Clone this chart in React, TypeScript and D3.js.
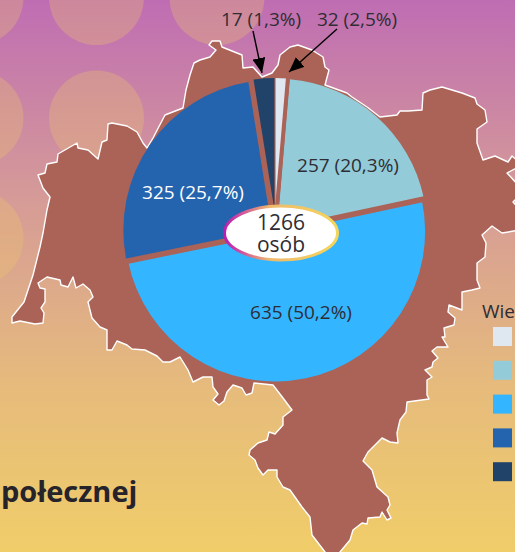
import React from "react";
import * as d3 from "d3";

const W = 515, H = 552;
// Drawn order clockwise from 12 o'clock. The picture's slice widths for the two smallest are swapped against their labels.
const sliceNames = ["light", "teal", "sky", "blue", "navy"];
const sliceArcValues = [17, 257, 635, 325, 32];
const sliceColors = ["#dfe7f0", "#93cbd9", "#33b5ff", "#2464ae", "#224369"];
const sliceExplode = [3, 3, 0.5, 2, 3];
// width of the brown gap that follows each slice, clockwise
const sliceGapAfter = [4, 5.5, 0, 5.5, 1];
const gapBlueSky = 5.5;
const legendColors = ["#dfe7f0", "#93cbd9", "#33b5ff", "#2464ae", "#224369"];
const labels = [
  { t: "17 (1,3%)", x: 261, y: 26, c: "#2f2d33" },
  { t: "32 (2,5%)", x: 357, y: 26, c: "#2f2d33" },
  { t: "257 (20,3%)", x: 348, y: 172, c: "#2f2d33" },
  { t: "635 (50,2%)", x: 301, y: 319, c: "#2f2d33" },
  { t: "325 (25,7%)", x: 193, y: 199, c: "#ffffff" },
];
const arrows = [
  [[253, 31], [262, 73]],
  [[337, 29], [289, 72]],
];
const circleSpots: [number, number][] = [[-24, -2.5], [-24, 118], [-24, 238], [96.5, -2.5], [96.5, 118], [217, -2.5]];
const outline: [number, number][] = [
  [183,108],[186,90],[190,75],[194,63],[200,60],[210,57],[216,50],[209,45],[212,41],[220,41],[222,47],[232,51],[242,55],[243,68],[253,67],[262,77],[272,73],[278,65],[280,55],[290,47],[298,45],[312,50],[323,57],[325,67],[329,70],[325,85],[347,93],[352,97],[367,107],[380,117],[397,115],[400,111],[408,111],[422,110],[423,93],[430,90],[442,87],[462,93],[475,98],[477,104],[485,110],[487,122],[477,129],[477,143],[483,160],[495,156],[508,162],[512,156],[520,163],[520,166],[507,173],[520,187],[520,195],[513,202],[520,210],[520,230],[502,233],[492,226],[482,235],[486,243],[485,257],[477,263],[477,280],[480,288],[472,290],[462,292],[462,310],[449,305],[448,312],[455,318],[454,325],[444,328],[445,337],[442,337],[448,347],[437,347],[432,351],[438,358],[433,362],[432,367],[425,370],[432,377],[427,380],[427,395],[429,399],[407,402],[406,412],[400,420],[397,433],[398,443],[390,442],[382,438],[368,452],[363,461],[372,470],[377,487],[388,497],[390,505],[387,510],[391,518],[387,520],[382,512],[380,517],[368,518],[367,524],[362,523],[353,530],[350,540],[340,552],[333,558],[325,552],[312,535],[310,517],[302,507],[290,490],[283,487],[277,477],[277,470],[268,470],[263,475],[258,468],[255,460],[249,455],[250,450],[258,443],[267,440],[269,432],[275,434],[283,425],[283,417],[292,410],[283,398],[273,385],[254,383],[252,393],[246,395],[242,388],[233,385],[227,392],[224,401],[219,405],[213,400],[218,394],[213,387],[212,377],[203,377],[193,382],[188,370],[180,357],[170,362],[163,362],[157,356],[145,350],[132,349],[127,345],[117,341],[112,350],[107,350],[107,330],[100,327],[92,318],[88,302],[93,297],[90,290],[83,284],[76,288],[73,277],[68,287],[61,285],[60,280],[47,277],[38,283],[40,288],[45,289],[45,302],[41,308],[44,313],[43,323],[35,324],[25,322],[20,321],[12,323],[12,317],[24,302],[33,275],[40,247],[43,233],[47,210],[50,197],[43,188],[38,175],[45,173],[47,164],[57,162],[58,154],[77,143],[78,148],[88,150],[98,159],[102,142],[107,140],[108,124],[112,123],[127,126],[137,132],[143,143],[147,148],[153,138],[165,115],
];

const cx = 275, cy = 231, R = 150;
const MAP = "#ab6257";

export default function App() {
  const pieGen = d3.pie<number>().sort(null).value((d) => d);
  const arcGen = d3.arc<d3.PieArcDatum<number>>().innerRadius(0).outerRadius(R);
  const arcs = pieGen(sliceArcValues);
  const mapPath = d3.line().curve(d3.curveLinearClosed)(outline) as string;
  const arrowLine = d3.line();
  const gaps = arcs.map((a, i) => ({ angle: a.endAngle, w: i === 2 ? gapBlueSky : sliceGapAfter[i] }));
  return (
    <svg width={W} height={H} viewBox={`0 0 ${W} ${H}`} style={{ position: "absolute", left: 0, top: 0, display: "block" }} fontFamily="'Open Sans', sans-serif">
      <defs>
        <linearGradient id="bg" x1="0" y1="0" x2="0" y2="1">
          <stop offset="0" stopColor="#bf6db3" />
          <stop offset="0.35" stopColor="#d59a98" />
          <stop offset="0.7" stopColor="#e6bb7c" />
          <stop offset="1" stopColor="#f0cd69" />
        </linearGradient>
        <linearGradient id="ring" x1="0" y1="0" x2="1" y2="0">
          <stop offset="0" stopColor="#b81fb0" />
          <stop offset="0.1" stopColor="#c93fa5" />
          <stop offset="0.4" stopColor="#eeb96c" />
          <stop offset="1" stopColor="#f5d65c" />
        </linearGradient>
        <marker id="head" viewBox="0 0 15 13" refX="15" refY="6.5" markerWidth="15" markerHeight="13" markerUnits="userSpaceOnUse" orient="auto">
          <path d="M0,0L15,6.5L0,13Z" fill="#000" />
        </marker>
      </defs>
      <rect width={W} height={H} fill="url(#bg)" />
      {circleSpots.map(([x, y]) => (
        <circle key={`${x}-${y}`} cx={x} cy={y} r={47.5} fill="#eec66a" opacity={0.3} />
      ))}
      <path d={mapPath} fill={MAP} stroke="#ffffff" strokeWidth={1.4} strokeLinejoin="round" />
      {arcs.map((a, i) => {
        const mid = (a.startAngle + a.endAngle) / 2;
        const dx = Math.sin(mid) * sliceExplode[i];
        const dy = -Math.cos(mid) * sliceExplode[i];
        return <path key={sliceNames[i]} d={arcGen(a) as string} fill={sliceColors[i]} transform={`translate(${cx + dx},${cy + dy})`} />;
      })}
      {gaps.map((g, i) => (
        <line key={i} x1={cx} y1={cy} x2={cx + Math.sin(g.angle) * (R + 5)} y2={cy - Math.cos(g.angle) * (R + 5)} stroke={MAP} strokeWidth={g.w} />
      ))}
      <ellipse cx={281} cy={233} rx={56.5} ry={27} fill="#fff" stroke="url(#ring)" strokeWidth={3} />
      <text x={281} y={230} textAnchor="middle" fontSize={21} fill="#2f2d33">1266</text>
      <text x={281} y={252} textAnchor="middle" fontSize={21} fill="#2f2d33">osób</text>
      {labels.map((l) => (
        <text key={l.t} x={l.x} y={l.y} textAnchor="middle" fontSize={19} fill={l.c}>{l.t}</text>
      ))}
      {arrows.map((p, i) => (
        <path key={i} d={arrowLine(p as [number, number][]) as string} stroke="#000" strokeWidth={1.4} fill="none" markerEnd="url(#head)" />
      ))}
      <text x={482} y={318} fontSize={19} fill="#2f2d33">Wie</text>
      {legendColors.map((c, i) => (
        <rect key={c} x={493} y={327 + i * 33.8} width={19} height={19} fill={c} />
      ))}
      <text x={1} y={502} fontSize={29} fontWeight={700} fill="#26242a">połecznej</text>
    </svg>
  );
}
